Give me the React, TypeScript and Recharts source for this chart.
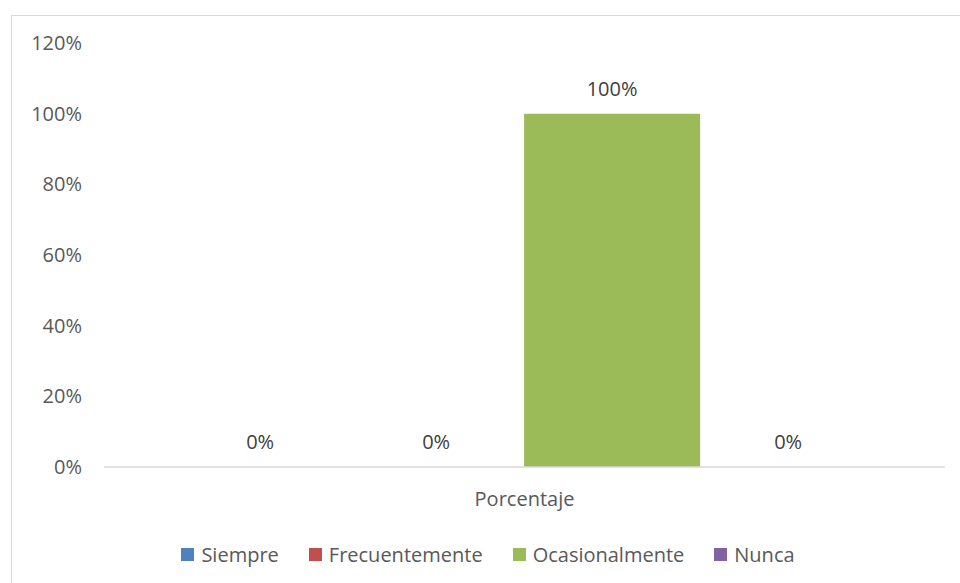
import { BarChart, Bar, XAxis, YAxis, Legend, LabelList } from "recharts";

const categories = ["Porcentaje"];
const seriesNames = ["Siempre", "Frecuentemente", "Ocasionalmente", "Nunca"];
const seriesKeys = ["siempre", "frecuentemente", "ocasionalmente", "nunca"];
const seriesColors = ["#4F81BD", "#C0504D", "#9BBB59", "#8064A2"];
// one value per category, per series
const siempre = [0];
const frecuentemente = [0];
const ocasionalmente = [1];
const nunca = [0];
const yTicks = [0, 0.2, 0.4, 0.6, 0.8, 1, 1.2];

const seriesValues = [siempre, frecuentemente, ocasionalmente, nunca];

const data = categories.map((name, i) => {
  const row: Record<string, string | number> = { name };
  seriesKeys.forEach((k, s) => {
    row[k] = seriesValues[s][i];
  });
  return row;
});

const FONT = "'Open Sans', sans-serif";
const TEXT = "#595959";

const pct = (v: number) => `${Math.round(v * 100)}%`;

// keep legend in series order (recharts sorts by name otherwise)
const LegendContent = ({ payload }: any) => {
  const items = [...(payload || [])].sort(
    (a: any, b: any) => seriesNames.indexOf(a.value) - seriesNames.indexOf(b.value)
  );
  return (
    <div
      style={{
        display: "flex",
        justifyContent: "center",
        alignItems: "center",
        fontFamily: FONT,
        fontSize: 20,
        color: TEXT,
      }}
    >
      {items.map((entry: any) => (
        <div
          key={entry.value}
          style={{ display: "flex", alignItems: "center", margin: "0 15px" }}
        >
          <span
            style={{
              display: "inline-block",
              width: 13,
              height: 13,
              background: entry.color,
              marginRight: 7,
            }}
          />
          <span>{entry.value}</span>
        </div>
      ))}
    </div>
  );
};

export default function App() {
  return (
    <div
      style={{
        position: "absolute",
        left: 0,
        top: 0,
        width: 960,
        height: 583,
        background: "#fff",
        overflow: "hidden",
      }}
    >
      <div
        style={{
          position: "absolute",
          left: 11,
          top: 15,
          width: 960,
          height: 583,
          border: "1px solid #D9D9D9",
        }}
      />
      <BarChart
        width={960}
        height={583}
        data={data}
        margin={{ top: 43, right: 15, left: 0, bottom: 56 }}
        barCategoryGap="8.1%"
        barGap={0}
      >
        <XAxis
          dataKey="name"
          height={60}
          tickLine={false}
          tickSize={0}
          tickMargin={25}
          axisLine={{ stroke: "#D9D9D9", strokeWidth: 1.5 }}
          tick={{ fill: TEXT, fontSize: 20, fontFamily: FONT }}
        />
        <YAxis
          width={104}
          domain={[0, 1.2]}
          ticks={yTicks}
          tickFormatter={pct}
          axisLine={false}
          tickLine={false}
          tickSize={0}
          tickMargin={22}
          tick={{ fill: TEXT, fontSize: 20, fontFamily: FONT }}
        />
        <Legend
          layout="horizontal"
          align="center"
          verticalAlign="middle"
          content={<LegendContent />}
          wrapperStyle={{ top: 541, left: 16, width: 944, height: 26 }}
        />
        {seriesKeys.map((k, s) => (
          <Bar
            key={k}
            dataKey={k}
            name={seriesNames[s]}
            fill={seriesColors[s]}
            minPointSize={0.01}
            isAnimationActive={false}
          >
            <LabelList
              dataKey={k}
              position="top"
              offset={18}
              formatter={(v: any) => pct(Number(v))}
              style={{ fill: "#404040", fontSize: 20, fontFamily: FONT }}
            />
          </Bar>
        ))}
      </BarChart>
    </div>
  );
}
